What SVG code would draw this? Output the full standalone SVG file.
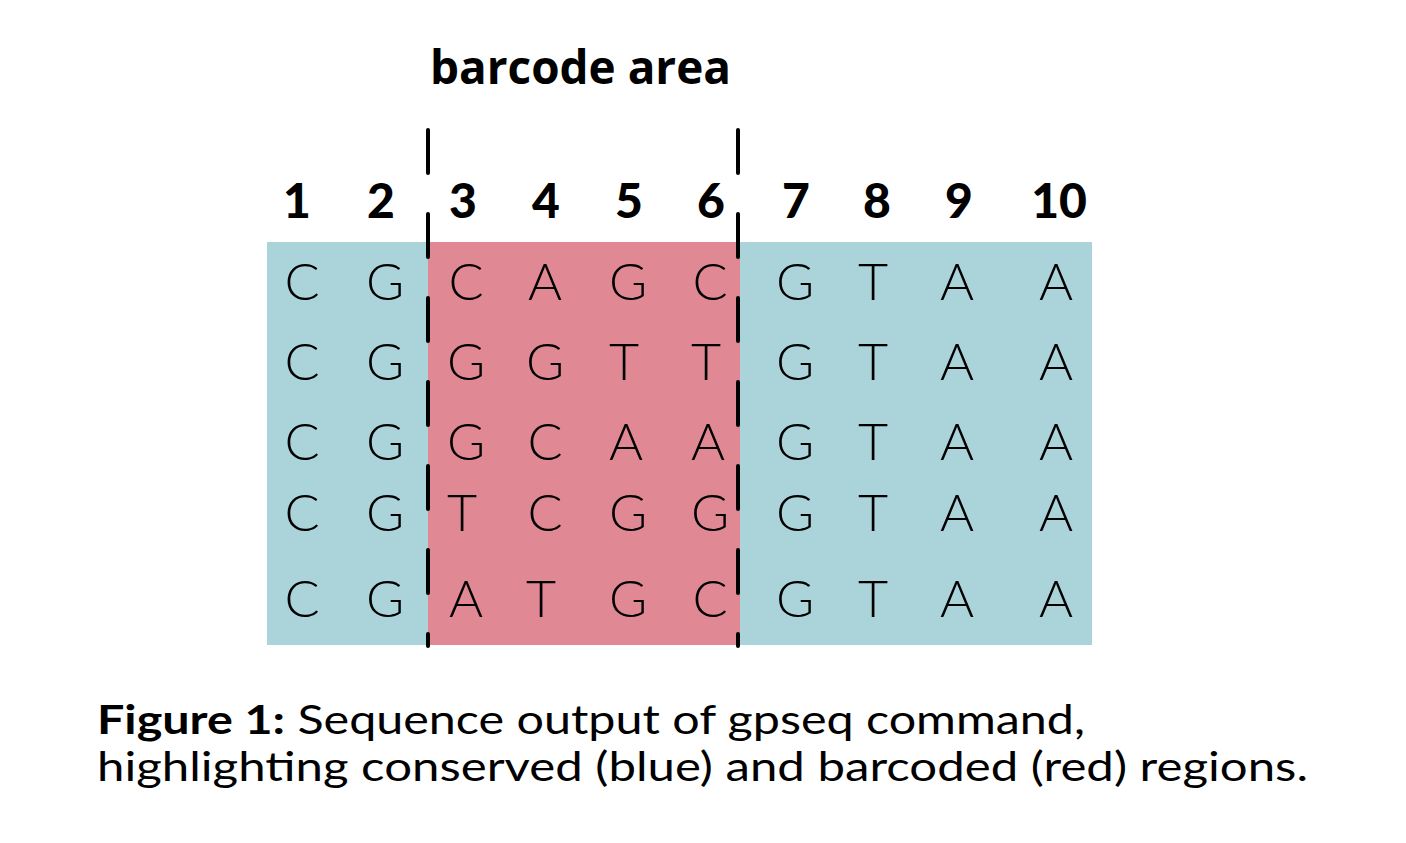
<svg xmlns="http://www.w3.org/2000/svg" width="1406" height="843" viewBox="0 0 1406 843">
<style>
.num{font-family:Lato,"Liberation Sans",sans-serif;font-weight:900;font-size:48px;fill:#000;text-anchor:middle}
.base{font-family:Lato,"Liberation Sans",sans-serif;font-weight:300;font-size:52px;fill:#000;text-anchor:middle}
.title{font-family:"Open Sans","Liberation Sans",sans-serif;font-weight:700;font-size:46px;fill:#000}
.cap{font-family:Lato,"Liberation Sans",sans-serif;font-weight:400;font-size:40px;fill:#000}
.dash{stroke:#000;stroke-width:4;stroke-dasharray:43 41;stroke-linecap:round;fill:none}
</style>
<rect width="1406" height="843" fill="#fff"/>
<g id="conserved-region"><rect x="267" y="242" width="825" height="403" fill="#abd3da"/></g>
<g id="barcode-region"><rect x="428" y="242" width="312" height="403" fill="#e08893"/></g>
<g id="title"><text class="title" x="430" y="84" textLength="301" lengthAdjust="spacingAndGlyphs">barcode area</text></g>
<g id="positions">
<text class="num" x="297" y="218">1</text>
<text class="num" x="381" y="218">2</text>
<text class="num" x="463" y="218">3</text>
<text class="num" x="546" y="218">4</text>
<text class="num" x="629" y="218">5</text>
<text class="num" x="711" y="218">6</text>
<text class="num" x="796" y="218">7</text>
<text class="num" x="877" y="218">8</text>
<text class="num" x="959" y="218">9</text>
<text class="num" x="1059" y="218">10</text>
</g>
<g id="sequences">
<g id="row1">
<text class="base" x="302" y="300">C</text><text class="base" x="385" y="300">G</text><text class="base" x="466" y="300">C</text><text class="base" x="545" y="300">A</text><text class="base" x="628" y="300">G</text><text class="base" x="710" y="300">C</text><text class="base" x="795" y="300">G</text><text class="base" x="873" y="300">T</text><text class="base" x="957" y="300">A</text><text class="base" x="1056" y="300">A</text>
</g>
<g id="row2">
<text class="base" x="302" y="380">C</text><text class="base" x="385" y="380">G</text><text class="base" x="466" y="380">G</text><text class="base" x="545" y="380">G</text><text class="base" x="624" y="380">T</text><text class="base" x="706" y="380">T</text><text class="base" x="795" y="380">G</text><text class="base" x="873" y="380">T</text><text class="base" x="957" y="380">A</text><text class="base" x="1056" y="380">A</text>
</g>
<g id="row3">
<text class="base" x="302" y="460">C</text><text class="base" x="385" y="460">G</text><text class="base" x="466" y="460">G</text><text class="base" x="545" y="460">C</text><text class="base" x="626" y="460">A</text><text class="base" x="708" y="460">A</text><text class="base" x="795" y="460">G</text><text class="base" x="873" y="460">T</text><text class="base" x="957" y="460">A</text><text class="base" x="1056" y="460">A</text>
</g>
<g id="row4">
<text class="base" x="302" y="531">C</text><text class="base" x="385" y="531">G</text><text class="base" x="462" y="531">T</text><text class="base" x="545" y="531">C</text><text class="base" x="628" y="531">G</text><text class="base" x="710" y="531">G</text><text class="base" x="795" y="531">G</text><text class="base" x="873" y="531">T</text><text class="base" x="957" y="531">A</text><text class="base" x="1056" y="531">A</text>
</g>
<g id="row5">
<text class="base" x="302" y="617">C</text><text class="base" x="385" y="617">G</text><text class="base" x="466" y="617">A</text><text class="base" x="541" y="617">T</text><text class="base" x="628" y="617">G</text><text class="base" x="710" y="617">C</text><text class="base" x="795" y="617">G</text><text class="base" x="873" y="617">T</text><text class="base" x="957" y="617">A</text><text class="base" x="1056" y="617">A</text>
</g>
</g>
<g id="connectors">
<line class="dash" x1="428" y1="130" x2="428" y2="646"/>
<line class="dash" x1="738" y1="130" x2="738" y2="646"/>
</g>
<g id="caption">
<text class="cap" x="97" y="734" textLength="988" lengthAdjust="spacingAndGlyphs"><tspan font-weight="700">Figure 1:</tspan> Sequence output of gpseq command,</text>
<text class="cap" x="97" y="781" textLength="1211" lengthAdjust="spacingAndGlyphs">highlighting conserved (blue) and barcoded (red) regions.</text>
</g>
</svg>
